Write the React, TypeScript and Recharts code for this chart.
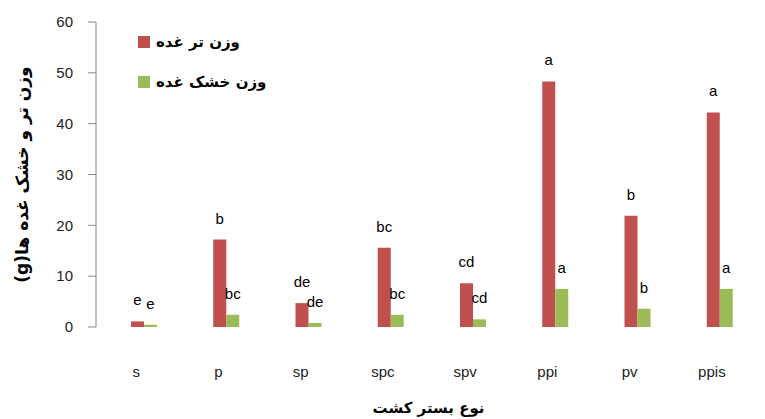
import { BarChart, Bar, XAxis, YAxis, Legend, LabelList } from 'recharts';

const categories = ['s', 'p', 'sp', 'spc', 'spv', 'ppi', 'pv', 'ppis'];
const freshWeight = [1.1, 17.2, 4.7, 15.6, 8.6, 48.3, 21.9, 42.2];
const dryWeight = [0.45, 2.4, 0.8, 2.4, 1.5, 7.5, 3.6, 7.5];
const freshLetters = ['e', 'b', 'de', 'bc', 'cd', 'a', 'b', 'a'];
const dryLetters = ['e', 'bc', 'de', 'bc', 'cd', 'a', 'b', 'a'];
const yTicks = [0, 10, 20, 30, 40, 50, 60];

const data = categories.map((name, i) => ({
  name,
  fresh: freshWeight[i],
  dry: dryWeight[i],
  freshLetter: freshLetters[i],
  dryLetter: dryLetters[i],
}));

const persianFont = '"DejaVu Sans", "Noto Sans", sans-serif';
const latinFont = '"Liberation Sans", Arial, sans-serif';

const renderLegend = (props: any) => {
  const { payload } = props;
  return (
    <div>
      {payload.map((entry: any) => (
        <div key={entry.value} style={{ display: 'flex', alignItems: 'center', height: 40 }}>
          <span style={{ width: 12, height: 12, background: entry.color, display: 'inline-block', marginRight: 6 }} />
          <span style={{ fontFamily: persianFont, fontWeight: 'bold', fontSize: 15, color: '#000', direction: 'rtl' }}>
            {entry.value}
          </span>
        </div>
      ))}
    </div>
  );
};

export default function App() {
  return (
    <div style={{ position: 'absolute', left: 0, top: 0, background: '#fff' }}>
      <BarChart
        width={765}
        height={419}
        data={data}
        margin={{ top: 22, right: 4, left: 0, bottom: 0 }}
        barGap={0}
      >
        <XAxis
          dataKey="name"
          height={92}
          axisLine={false}
          tickLine={false}
          tickSize={0}
          tickMargin={39}
          padding={{ left: 7, right: 0 }}
          tick={{ fill: '#222', fontSize: 15, fontFamily: latinFont, dx: -8 }}
          label={{
            value: 'نوع بستر کشت',
            position: 'insideBottom',
            offset: 6,
            fill: '#000',
            fontSize: 15,
            fontWeight: 'bold',
            fontFamily: persianFont,
          }}
        />
        <YAxis
          width={96}
          domain={[0, 60]}
          ticks={yTicks}
          interval={0}
          tickSize={8}
          tickMargin={15}
          stroke="#868686"
          tick={{ fill: '#222', fontSize: 15, fontFamily: latinFont }}
          label={{
            value: '\u202Bوزن تر و خشک غده ها(g)\u202C',
            angle: -90,
            position: 'center',
            dx: -26,
            fill: '#000',
            fontSize: 17,
            fontWeight: 'bold',
            fontFamily: persianFont,
          }}
        />
        <Legend
          layout="horizontal"
          verticalAlign="middle"
          align="center"
          content={renderLegend}
          wrapperStyle={{ left: 138, top: 22, width: 200 }}
        />
        <Bar dataKey="fresh" name="وزن تر غده" fill="#C0504D" barSize={13} isAnimationActive={false}>
          <LabelList dataKey="freshLetter" position="top" offset={16} fill="#000" fontSize={15} fontFamily={latinFont} />
        </Bar>
        <Bar dataKey="dry" name="وزن خشک غده" fill="#9BBB59" barSize={13} isAnimationActive={false}>
          <LabelList dataKey="dryLetter" position="top" offset={16} fill="#000" fontSize={15} fontFamily={latinFont} />
        </Bar>
      </BarChart>
    </div>
  );
}
